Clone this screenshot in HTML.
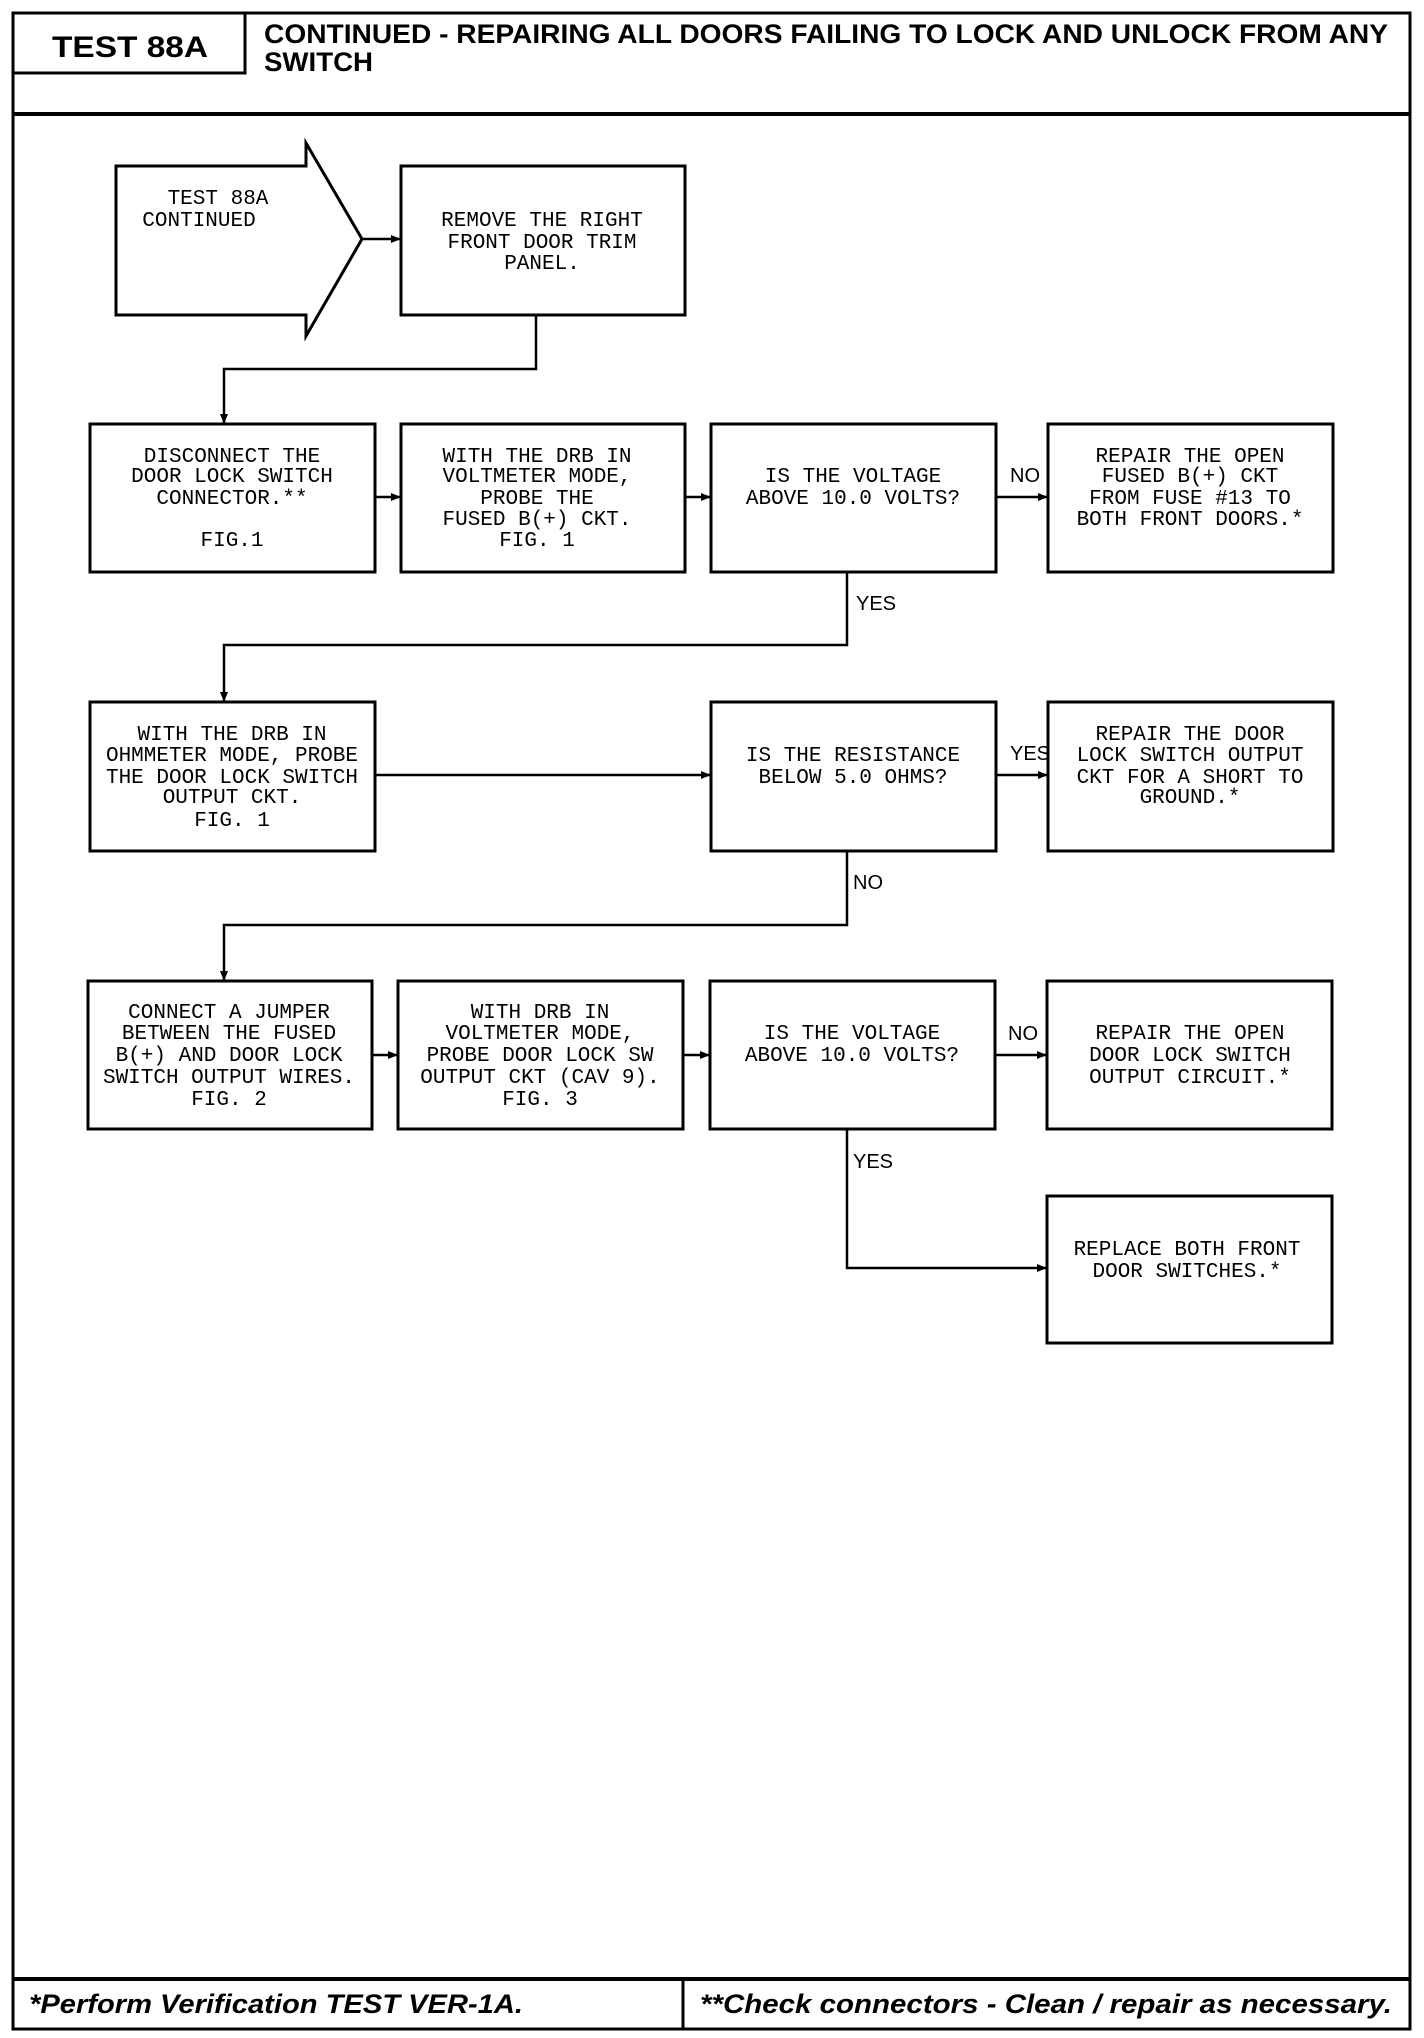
<!DOCTYPE html>
<html><head><meta charset="utf-8"><style>
html,body{margin:0;padding:0;background:#fff;}
svg{display:block;}
.b{fill:none;stroke:#000;stroke-width:3;}
.l{fill:none;stroke:#000;stroke-width:2.5;}
.t{font-family:"Liberation Mono",monospace;font-size:21px;text-anchor:middle;fill:#000;}
.lb{font-family:"Liberation Sans",sans-serif;font-size:20px;fill:#000;}
</style></head><body>
<svg width="1424" height="2038" viewBox="0 0 1424 2038" xmlns="http://www.w3.org/2000/svg">
<defs><marker id="a" markerWidth="10" markerHeight="10" refX="9" refY="5" orient="auto" markerUnits="userSpaceOnUse"><path d="M0,1 L10,5 L0,9 Z" fill="#000"/></marker></defs>
<rect x="13" y="13" width="1397" height="2016" fill="none" stroke="#000" stroke-width="3"/>
<rect x="13" y="13" width="232" height="60" fill="none" stroke="#000" stroke-width="3"/>
<line x1="13" y1="114" x2="1410" y2="114" stroke="#000" stroke-width="4"/>
<line x1="13" y1="1979" x2="1410" y2="1979" stroke="#000" stroke-width="4"/>
<line x1="683" y1="1979" x2="683" y2="2029" stroke="#000" stroke-width="3"/>
<text x="52" y="57" font-family="Liberation Sans" font-weight="bold" font-size="30" textLength="156" lengthAdjust="spacingAndGlyphs">TEST 88A</text>
<text x="264" y="43" font-family="Liberation Sans" font-weight="bold" font-size="27" textLength="1124" lengthAdjust="spacingAndGlyphs">CONTINUED - REPAIRING ALL DOORS FAILING TO LOCK AND UNLOCK FROM ANY</text>
<text x="264" y="71" font-family="Liberation Sans" font-weight="bold" font-size="27" textLength="109" lengthAdjust="spacingAndGlyphs">SWITCH</text>
<text x="29" y="2013" font-family="Liberation Sans" font-weight="bold" font-style="italic" font-size="27" textLength="494" lengthAdjust="spacingAndGlyphs">*Perform Verification TEST VER-1A.</text>
<text x="700" y="2013" font-family="Liberation Sans" font-weight="bold" font-style="italic" font-size="27" textLength="692" lengthAdjust="spacingAndGlyphs">**Check connectors - Clean / repair as necessary.</text>

<path class="b" d="M116,166 L306,166 L306,143 L362,239 L306,336 L306,315 L116,315 Z"/>
<rect class="b" x="401" y="166" width="284" height="149"/>
<line class="l" x1="362" y1="239" x2="400" y2="239" marker-end="url(#a)"/>
<polyline class="l" points="536,315 536,369 224,369 224,423" marker-end="url(#a)"/>

<rect class="b" x="90" y="424" width="285" height="148"/>
<rect class="b" x="401" y="424" width="284" height="148"/>
<rect class="b" x="711" y="424" width="285" height="148"/>
<rect class="b" x="1048" y="424" width="285" height="148"/>
<line class="l" x1="375" y1="497" x2="400" y2="497" marker-end="url(#a)"/>
<line class="l" x1="685" y1="497" x2="710" y2="497" marker-end="url(#a)"/>
<line class="l" x1="996" y1="497" x2="1047" y2="497" marker-end="url(#a)"/>
<polyline class="l" points="847,572 847,645 224,645 224,701" marker-end="url(#a)"/>

<rect class="b" x="90" y="702" width="285" height="149"/>
<rect class="b" x="711" y="702" width="285" height="149"/>
<rect class="b" x="1048" y="702" width="285" height="149"/>
<line class="l" x1="375" y1="775" x2="710" y2="775" marker-end="url(#a)"/>
<line class="l" x1="996" y1="775" x2="1047" y2="775" marker-end="url(#a)"/>
<polyline class="l" points="847,851 847,925 224,925 224,980" marker-end="url(#a)"/>

<rect class="b" x="88" y="981" width="284" height="148"/>
<rect class="b" x="398" y="981" width="285" height="148"/>
<rect class="b" x="710" y="981" width="285" height="148"/>
<rect class="b" x="1047" y="981" width="285" height="148"/>
<line class="l" x1="372" y1="1055" x2="397" y2="1055" marker-end="url(#a)"/>
<line class="l" x1="683" y1="1055" x2="709" y2="1055" marker-end="url(#a)"/>
<line class="l" x1="995" y1="1055" x2="1046" y2="1055" marker-end="url(#a)"/>
<polyline class="l" points="847,1129 847,1268 1046,1268" marker-end="url(#a)"/>
<rect class="b" x="1047" y="1196" width="285" height="147"/>

<text class="lb" x="1010" y="482">NO</text>
<text class="lb" x="856" y="610">YES</text>
<text class="lb" x="1010" y="760">YES</text>
<text class="lb" x="853" y="889">NO</text>
<text class="lb" x="1008" y="1040">NO</text>
<text class="lb" x="853" y="1168">YES</text>

<text class="t" x="218" y="204">TEST 88A</text>
<text class="t" x="199" y="226">CONTINUED</text>
<text class="t" x="542" y="226">REMOVE THE RIGHT</text>
<text class="t" x="542" y="248">FRONT DOOR TRIM</text>
<text class="t" x="542" y="269">PANEL.</text>

<text class="t" x="232" y="462">DISCONNECT THE</text>
<text class="t" x="232" y="482">DOOR LOCK SWITCH</text>
<text class="t" x="232" y="504">CONNECTOR.**</text>
<text class="t" x="232" y="546">FIG.1</text>
<text class="t" x="537" y="462">WITH THE DRB IN</text>
<text class="t" x="537" y="482">VOLTMETER MODE,</text>
<text class="t" x="537" y="504">PROBE THE</text>
<text class="t" x="537" y="525">FUSED B(+) CKT.</text>
<text class="t" x="537" y="546">FIG. 1</text>
<text class="t" x="853" y="482">IS THE VOLTAGE</text>
<text class="t" x="853" y="504">ABOVE 10.0 VOLTS?</text>
<text class="t" x="1190" y="462">REPAIR THE OPEN</text>
<text class="t" x="1190" y="482">FUSED B(+) CKT</text>
<text class="t" x="1190" y="504">FROM FUSE #13 TO</text>
<text class="t" x="1190" y="525">BOTH FRONT DOORS.*</text>

<text class="t" x="232" y="740">WITH THE DRB IN</text>
<text class="t" x="232" y="761">OHMMETER MODE, PROBE</text>
<text class="t" x="232" y="783">THE DOOR LOCK SWITCH</text>
<text class="t" x="232" y="803">OUTPUT CKT.</text>
<text class="t" x="232" y="826">FIG. 1</text>
<text class="t" x="853" y="761">IS THE RESISTANCE</text>
<text class="t" x="853" y="783">BELOW 5.0 OHMS?</text>
<text class="t" x="1190" y="740">REPAIR THE DOOR</text>
<text class="t" x="1190" y="761">LOCK SWITCH OUTPUT</text>
<text class="t" x="1190" y="783">CKT FOR A SHORT TO</text>
<text class="t" x="1190" y="803">GROUND.*</text>

<text class="t" x="229" y="1018">CONNECT A JUMPER</text>
<text class="t" x="229" y="1039">BETWEEN THE FUSED</text>
<text class="t" x="229" y="1061">B(+) AND DOOR LOCK</text>
<text class="t" x="229" y="1083">SWITCH OUTPUT WIRES.</text>
<text class="t" x="229" y="1105">FIG. 2</text>
<text class="t" x="540" y="1018">WITH DRB IN</text>
<text class="t" x="540" y="1039">VOLTMETER MODE,</text>
<text class="t" x="540" y="1061">PROBE DOOR LOCK SW</text>
<text class="t" x="540" y="1083">OUTPUT CKT (CAV 9).</text>
<text class="t" x="540" y="1105">FIG. 3</text>
<text class="t" x="852" y="1039">IS THE VOLTAGE</text>
<text class="t" x="852" y="1061">ABOVE 10.0 VOLTS?</text>
<text class="t" x="1190" y="1039">REPAIR THE OPEN</text>
<text class="t" x="1190" y="1061">DOOR LOCK SWITCH</text>
<text class="t" x="1190" y="1083">OUTPUT CIRCUIT.*</text>
<text class="t" x="1187" y="1255">REPLACE BOTH FRONT</text>
<text class="t" x="1187" y="1277">DOOR SWITCHES.*</text>
</svg>
</body></html>
